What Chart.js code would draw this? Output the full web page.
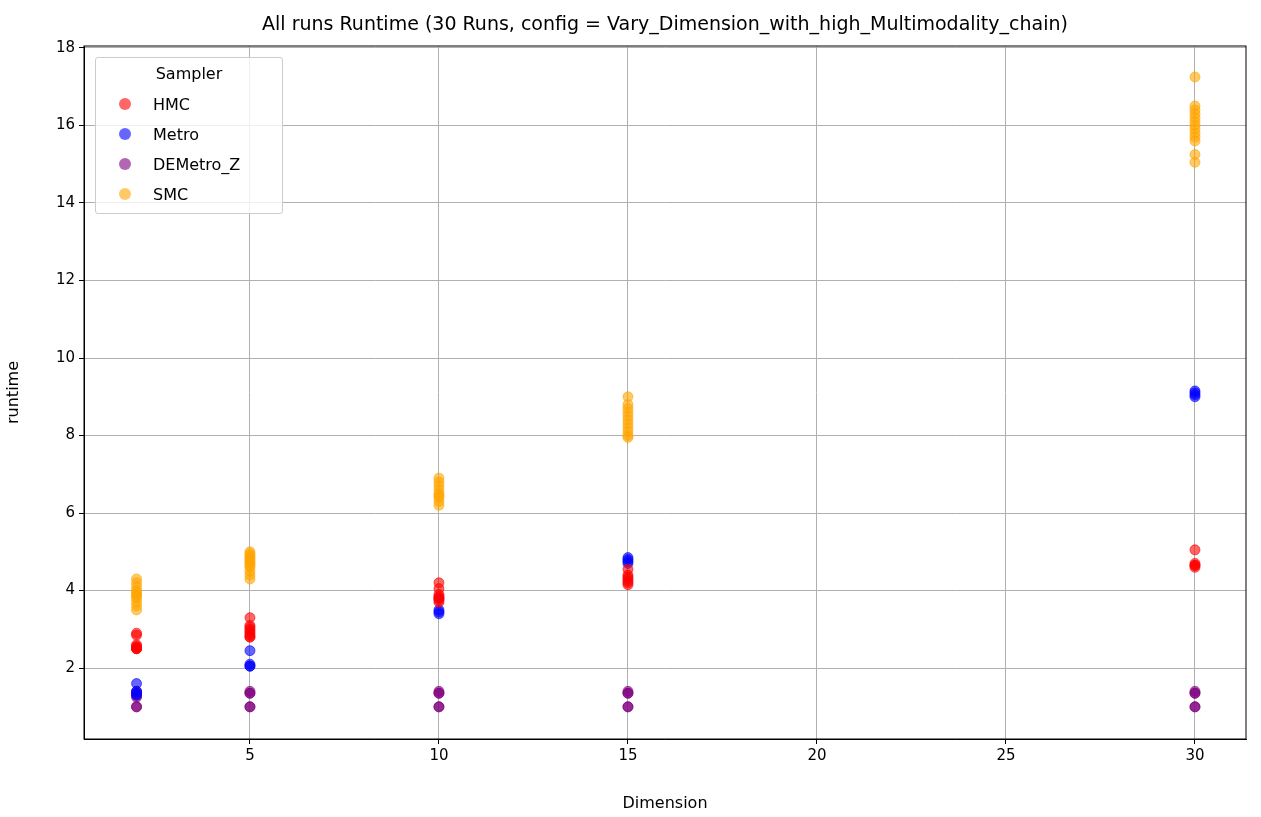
<!DOCTYPE html>
<html>
<head>
<meta charset="utf-8">
<script src="https://cdn.jsdelivr.net/npm/chart.js@4"></script>
<style>
  body { margin: 0; background: #fff; font-family: "DejaVu Sans", sans-serif; }
  #wrap { position: relative; width: 1261px; height: 817px; }
  #title { position: absolute; top: 12px; left: 84px; width: 1162px; text-align: center; font-size: 19px; color: #000; }
  #legend { position: absolute; left: 95px; top: 57px; width: 186px; border: 1px solid #ccc; border-radius: 3px; background: rgba(255,255,255,0.8); font-size: 16px; padding: 6px 0 4px 0; }
  #legend .t { text-align: center; margin-bottom: 6px; }
  #legend .r { height: 30px; display: flex; align-items: center; }
  #legend .d { width: 12px; height: 12px; border-radius: 50%; margin: 0 22px 0 23px; }
</style>
</head>
<body>
<div id="wrap">
  <canvas id="c" width="1261" height="817"></canvas>
  <div id="title">All runs Runtime (30 Runs, config = Vary_Dimension_with_high_Multimodality_chain)</div>
  <div id="legend"><div class="t">Sampler</div></div>
</div>
<script>
const dimensions = [2, 5, 10, 15, 30];
const samplers = ['HMC', 'Metro', 'DEMetro_Z', 'SMC'];
const colors = ['rgba(255,0,0,0.6)', 'rgba(0,0,255,0.6)', 'rgba(128,0,128,0.6)', 'rgba(255,165,0,0.6)'];

// runtime values per dimension (same order as dimensions)
const hmcRuntime = [
  [2.9, 2.85, 2.6, 2.55, 2.5, 2.5, 2.55, 2.5],
  [3.3, 3.1, 3.05, 3.0, 2.95, 2.9, 2.85, 2.8, 2.8],
  [4.2, 4.05, 3.9, 3.85, 3.8, 3.75, 3.7],
  [4.55, 4.4, 4.35, 4.3, 4.25, 4.2, 4.15],
  [5.05, 4.7, 4.65, 4.65, 4.6]
];
const metroRuntime = [
  [1.6, 1.4, 1.35, 1.3],
  [2.45, 2.1, 2.05, 2.05],
  [3.8, 3.5, 3.45, 3.4],
  [4.85, 4.8, 4.75, 4.7],
  [9.15, 9.1, 9.05, 9.0]
];
const demetroRuntime = [
  [1.4, 1.35, 1.3, 1.25, 1.0, 1.0],
  [1.4, 1.35, 1.35, 1.0, 1.0],
  [1.4, 1.35, 1.35, 1.0, 1.0],
  [1.4, 1.35, 1.35, 1.0, 1.0],
  [1.4, 1.35, 1.35, 1.0, 1.0]
];
const smcRuntime = [
  [4.3, 4.2, 4.1, 4.0, 3.95, 3.9, 3.85, 3.8, 3.7, 3.6, 3.5],
  [5.0, 4.95, 4.9, 4.85, 4.8, 4.75, 4.7, 4.65, 4.6, 4.5, 4.4, 4.3],
  [6.9, 6.8, 6.7, 6.6, 6.5, 6.45, 6.4, 6.3, 6.2],
  [9.0, 8.8, 8.7, 8.6, 8.5, 8.4, 8.3, 8.2, 8.1, 8.0, 7.95],
  [17.25, 16.5, 16.4, 16.3, 16.2, 16.1, 16.0, 15.9, 15.8, 15.7, 15.6, 15.25, 15.05]
];
const xTicks = [5, 10, 15, 20, 25, 30];
const yTicks = [2, 4, 6, 8, 10, 12, 14, 16, 18];

function toPoints(series) {
  const pts = [];
  series.forEach(function(vals, i) {
    vals.forEach(function(v) { pts.push({ x: dimensions[i], y: v }); });
  });
  return pts;
}

const allSeries = [hmcRuntime, metroRuntime, demetroRuntime, smcRuntime];
const datasets = samplers.map(function(name, i) {
  return {
    label: name,
    data: toPoints(allSeries[i]),
    backgroundColor: colors[i],
    borderColor: colors[i],
    borderWidth: 1,
    pointRadius: 5
  };
});

const legend = document.getElementById('legend');
samplers.forEach(function(name, i) {
  const r = document.createElement('div');
  r.className = 'r';
  r.innerHTML = '<span class="d" style="background:' + colors[i] + '"></span>' + name;
  legend.appendChild(r);
});

const tickFont = { family: 'DejaVu Sans', size: 15 };
const titleFont = { family: 'DejaVu Sans', size: 16 };
new Chart(document.getElementById('c'), {
  type: 'scatter',
  data: { datasets },
  options: {
    responsive: false,
    animation: false,
    layout: { padding: { top: 46, right: 15, left: 0, bottom: 0 } },
    plugins: { legend: { display: false }, tooltip: { enabled: false } },
    scales: {
      x: {
        type: 'linear', min: 0.61, max: 31.35,
        afterBuildTicks: function(s) { s.ticks = xTicks.map(v => ({ value: v })); },
        afterFit: function(s) { s.height = 78; },
        grid: { color: '#b0b0b0', lineWidth: 1, drawTicks: true, tickLength: 5, tickColor: '#000' },
        border: { color: '#000', width: 1 },
        ticks: { color: '#000', font: tickFont, padding: 3 },
        title: { display: true, text: 'Dimension', color: '#000', font: titleFont, padding: { top: 4 } }
      },
      y: {
        type: 'linear', min: 0.17, max: 18.05,
        afterBuildTicks: function(s) { s.ticks = yTicks.map(v => ({ value: v })); },
        afterFit: function(s) { s.width = 84; },
        grid: { color: '#b0b0b0', lineWidth: 1, drawTicks: true, tickLength: 5, tickColor: '#000' },
        border: { color: '#000', width: 1 },
        ticks: { color: '#000', font: tickFont, padding: 4 },
        title: { display: true, text: 'runtime', color: '#000', font: titleFont, padding: { bottom: 0 } }
      }
    }
  },
  plugins: [{
    id: 'frame',
    afterDraw: function(chart) {
      const a = chart.chartArea, ctx = chart.ctx;
      ctx.save();
      ctx.strokeStyle = '#000';
      ctx.lineWidth = 1;
      ctx.strokeRect(a.left, a.top, a.right - a.left, a.bottom - a.top);
      ctx.restore();
    }
  }]
});
</script>
</body>
</html>
